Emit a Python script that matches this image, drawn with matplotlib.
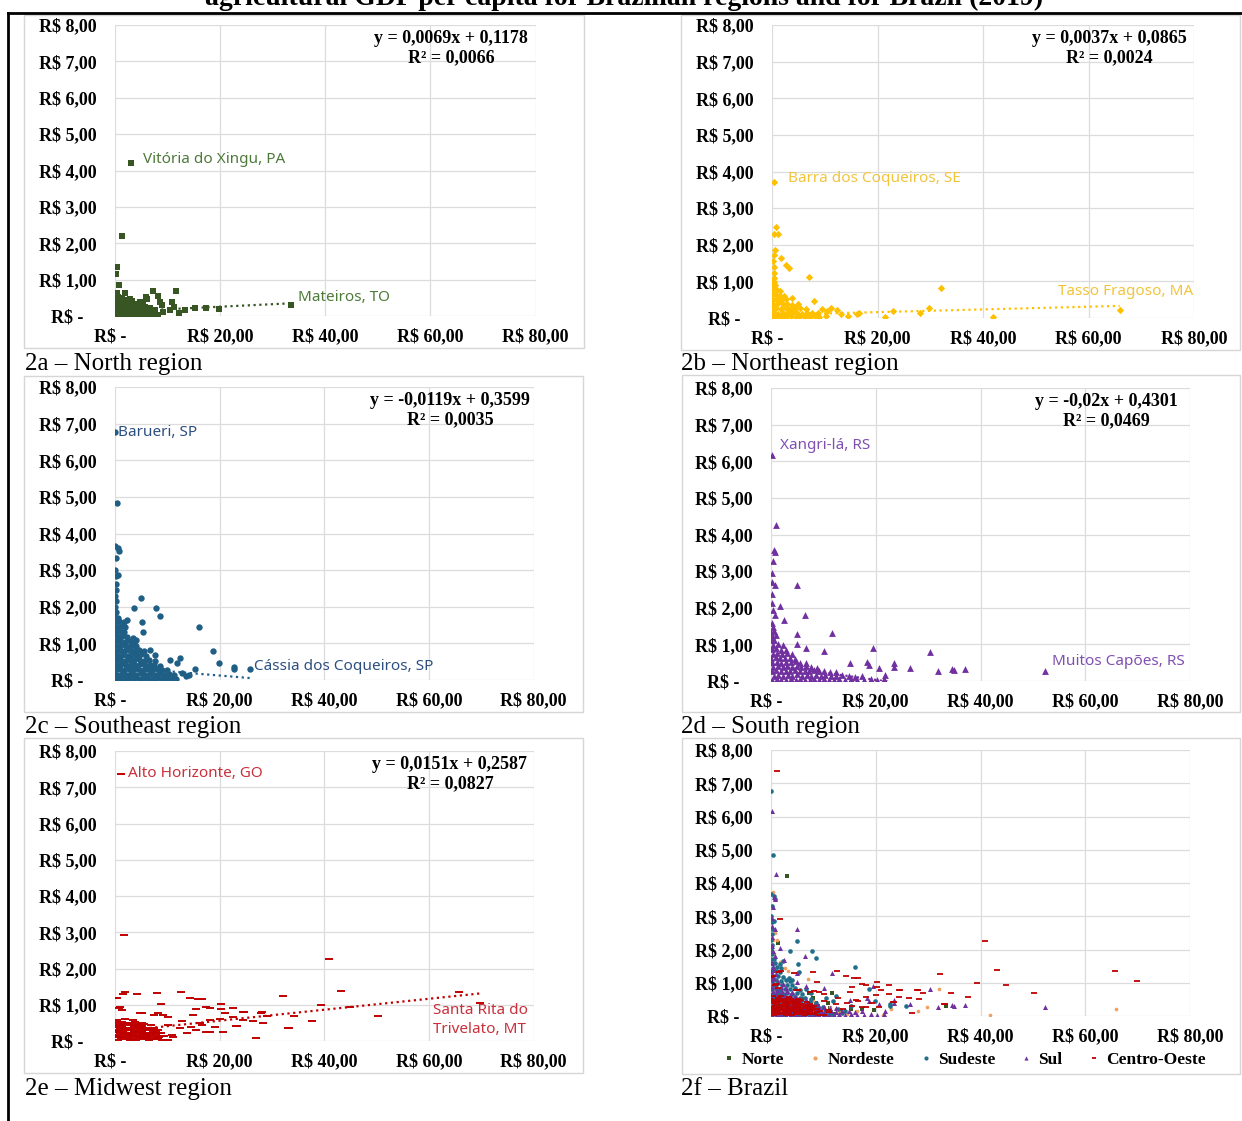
import matplotlib.pyplot as plt
from matplotlib.patches import Rectangle
from matplotlib.lines import Line2D

# ---------------------------------------------------------------
# datos (x = PIB agro per capita, y = valor)
# ---------------------------------------------------------------
north_x = [
    0.1, 0.8, 1.6, 2.3, 3.1, 3.9, 4.6, 5.5, 6.3, 7.2, 8.1,
    0.3, 1.1, 1.9, 2.7, 3.5, 4.3, 5.1, 5.9, 6.8, 7.7, 9.2,
    0.0, 0.7, 1.5, 2.4, 3.2, 4.0, 4.8, 5.7, 6.6,
    0.2, 1.0, 1.8, 2.6, 3.5, 4.4, 5.3,
    0.1, 0.9, 1.7, 2.5, 3.3,
    0.0, 0.6, 1.4, 2.8,
    0.3, 1.9, 0.8, 0.1, 0.3, 1.4, 3.1,
    7.2, 11.6, 6.0, 8.6, 10.8, 10.5, 12.1, 13.3, 15.2, 17.3, 19.7, 33.4,
    4.8, 5.4, 7.6, 9.2, 8.1, 5.9, 9.0, 11.2,
]
north_y = [
    0.03, 0.05, 0.02, 0.04, 0.06, 0.03, 0.05, 0.02, 0.04, 0.06, 0.03,
    0.13, 0.11, 0.14, 0.12, 0.10, 0.15, 0.12, 0.13, 0.11, 0.14, 0.12,
    0.22, 0.24, 0.21, 0.23, 0.25, 0.22, 0.20, 0.24, 0.23,
    0.33, 0.31, 0.34, 0.32, 0.30, 0.33, 0.35,
    0.43, 0.41, 0.44, 0.42, 0.40,
    0.53, 0.51, 0.50, 0.47,
    0.62, 0.62, 0.85, 1.15, 1.35, 2.19, 4.20,
    0.68, 0.70, 0.48, 0.39, 0.39, 0.16, 0.07, 0.16, 0.21, 0.21, 0.19, 0.30,
    0.39, 0.26, 0.16, 0.12, 0.55, 0.51, 0.30, 0.25,
]

northeast_x = [
    0.1, 0.9, 1.8, 2.7, 3.6, 4.5, 5.4, 6.3, 7.2, 8.1, 9.0, 10.2,
    0.3, 1.2, 2.1, 3.0, 3.9, 4.8, 5.7, 6.6, 7.6, 8.8,
    0.0, 0.8, 1.7, 2.6, 3.5, 4.4, 5.3, 6.4,
    0.2, 1.1, 2.0, 2.9, 3.8, 4.9,
    0.1, 0.9, 1.8, 2.7, 3.8,
    0.0, 0.7, 1.5, 2.3,
    0.2, 0.9, 1.6,
    0.1, 0.6,
    0.2, 0.4,
    0.4, 0.8, 0.4, 1.2, 0.55, 0.4, 1.75, 2.65, 3.25, 0.4,
    7.0, 0.4, 32.1, 8.0, 11.2, 12.4, 14.5, 16.5, 16.1, 21.4,
    22.9, 28.1, 29.8, 41.9, 65.9, 0.3, 0.2, 10.5, 9.5, 13.0,
]
northeast_y = [
    0.03, 0.05, 0.02, 0.04, 0.06, 0.03, 0.05, 0.02, 0.04, 0.06, 0.03, 0.05,
    0.14, 0.12, 0.15, 0.13, 0.16, 0.14, 0.12, 0.15, 0.13, 0.14,
    0.26, 0.28, 0.25, 0.27, 0.24, 0.26, 0.28, 0.25,
    0.38, 0.40, 0.37, 0.39, 0.36, 0.38,
    0.50, 0.52, 0.49, 0.51, 0.55,
    0.62, 0.64, 0.61, 0.60,
    0.75, 0.77, 0.74,
    0.88, 0.90,
    1.00, 0.98,
    3.72, 2.49, 2.28, 2.28, 1.86, 1.72, 1.63, 1.45, 1.36, 1.40,
    1.11, 1.24, 0.81, 0.46, 0.28, 0.22, 0.06, 0.15, 0.10, 0.02,
    0.20, 0.15, 0.26, 0.04, 0.22, 1.10, 1.55, 0.18, 0.25, 0.12,
]

southeast_x = [
    0.1, 0.9, 1.8, 2.7, 3.6, 4.5, 5.4, 6.3, 7.2, 8.1, 9.0, 9.9, 10.8, 11.7,
    0.4, 1.3, 2.2, 3.1, 4.0, 4.9, 5.8, 6.7, 7.6, 8.5, 9.4, 10.3, 11.3,
    0.0, 0.8, 1.7, 2.6, 3.5, 4.4, 5.3, 6.2, 7.1, 8.0, 8.9, 9.9,
    0.3, 1.2, 2.1, 3.0, 3.9, 4.8, 5.7, 6.6, 7.5, 8.6,
    0.1, 1.0, 1.9, 2.8, 3.7, 4.6, 5.5, 6.5, 7.6,
    0.4, 1.3, 2.2, 3.1, 4.0, 4.9, 5.9,
    0.0, 0.9, 1.8, 2.7, 3.6, 4.6, 5.6,
    0.3, 1.2, 2.1, 3.0, 4.0,
    0.1, 1.0, 1.9, 2.9, 3.6,
    0.4, 1.3, 2.3,
    0.0, 0.9, 1.8,
    0.3, 1.1, 2.0,
    0.1, 0.8, 1.7,
    0.0, 0.5,
    0.2,
    0.0, 0.1, 0.0, 0.2, 0.1,
    0.0, 0.3, 0.0, 0.5, 0.8, 0.1, 0.0, 0.1, 0.6,
    4.9, 3.7, 7.8, 8.6, 5.2, 5.3, 16.1, 18.7, 19.9, 22.8, 22.8, 25.8,
    15.3, 12.4, 10.5, 11.8, 6.6, 7.6, 3.5, 4.1, 2.2, 12.8, 13.5, 14.2,
]
southeast_y = [
    0.03, 0.05, 0.02, 0.04, 0.06, 0.03, 0.05, 0.02, 0.04, 0.06, 0.03, 0.05, 0.02, 0.04,
    0.15, 0.17, 0.14, 0.16, 0.15, 0.18, 0.14, 0.16, 0.15, 0.17, 0.14, 0.16, 0.13,
    0.28, 0.30, 0.27, 0.29, 0.28, 0.31, 0.27, 0.29, 0.28, 0.30, 0.27, 0.26,
    0.41, 0.43, 0.40, 0.42, 0.41, 0.44, 0.40, 0.42, 0.41, 0.39,
    0.54, 0.56, 0.53, 0.55, 0.54, 0.57, 0.53, 0.55, 0.52,
    0.67, 0.69, 0.66, 0.68, 0.67, 0.70, 0.66,
    0.80, 0.82, 0.79, 0.81, 0.80, 0.83, 0.78,
    0.93, 0.95, 0.92, 0.94, 0.93,
    1.06, 1.08, 1.05, 1.07, 1.04,
    1.19, 1.21, 1.18,
    1.32, 1.34, 1.31,
    1.45, 1.47, 1.44,
    1.58, 1.60, 1.57,
    1.72, 1.70,
    1.85,
    2.00, 2.15, 2.30, 2.46, 2.62,
    6.77, 4.83, 3.66, 3.60, 3.52, 3.32, 3.00, 2.84, 2.87,
    2.25, 1.96, 1.96, 1.75, 1.57, 1.32, 1.46, 0.80, 0.46, 0.36, 0.30, 0.30,
    0.29, 0.59, 0.55, 0.46, 0.82, 0.68, 1.14, 1.09, 1.64, 0.20, 0.10, 0.15,
]

south_x = [
    0.2, 1.1, 2.0, 2.9, 3.8, 4.7, 5.6, 6.5, 7.4, 8.3, 9.2, 10.1, 11.0, 12.0, 13.0, 14.1, 15.3, 16.5, 17.8, 19.0, 20.2, 21.5,
    0.5, 1.4, 2.3, 3.2, 4.1, 5.0, 5.9, 6.8, 7.7, 8.6, 9.5, 10.4, 11.4, 12.5, 13.6, 14.8, 16.0, 17.3,
    0.1, 1.0, 1.9, 2.8, 3.7, 4.6, 5.5, 6.4, 7.3, 8.2, 9.1, 10.1, 11.2, 12.4,
    0.4, 1.3, 2.2, 3.1, 4.0, 4.9, 5.8, 6.7, 7.7, 8.8,
    0.2, 1.1, 2.0, 2.9, 3.8, 4.7, 5.6, 6.6,
    0.0, 0.9, 1.8, 2.7, 3.6, 4.6,
    0.3, 1.2, 2.1, 3.0, 4.0,
    0.1, 1.0, 1.9, 2.8,
    0.4, 1.3, 2.2,
    0.1, 0.6, 0.2, 0.9, 0.0, 0.5, 0.3, 0.1,
    0.25, 1.0, 0.5, 0.8, 0.3, 0.25, 0.25, 0.8, 5.0, 0.25, 0.25, 1.8,
    0.4, 0.8, 2.5, 6.5, 5.0, 11.7, 5.0, 6.7, 10.2, 19.5, 30.4, 23.5,
    23.5, 26.5, 31.9, 34.6, 35.0, 37.0, 52.4, 18.4, 18.8, 20.6, 21.7, 15.0,
]
south_y = [
    0.03, 0.05, 0.02, 0.04, 0.06, 0.03, 0.05, 0.02, 0.04, 0.06, 0.03, 0.05, 0.02, 0.04, 0.06, 0.03, 0.05, 0.02, 0.04, 0.06, 0.03, 0.05,
    0.15, 0.17, 0.14, 0.16, 0.15, 0.18, 0.14, 0.16, 0.15, 0.17, 0.14, 0.16, 0.15, 0.13, 0.16, 0.14, 0.12, 0.15,
    0.27, 0.29, 0.26, 0.28, 0.27, 0.30, 0.26, 0.28, 0.27, 0.29, 0.26, 0.27, 0.25, 0.24,
    0.39, 0.41, 0.38, 0.40, 0.39, 0.42, 0.38, 0.40, 0.37, 0.36,
    0.51, 0.53, 0.50, 0.52, 0.51, 0.54, 0.50, 0.49,
    0.63, 0.65, 0.62, 0.64, 0.63, 0.61,
    0.75, 0.77, 0.74, 0.76, 0.73,
    0.87, 0.89, 0.86, 0.85,
    0.99, 1.01, 0.97,
    1.11, 1.13, 1.23, 1.25, 1.35, 1.37, 1.47, 1.59,
    6.17, 4.26, 3.58, 3.53, 3.28, 2.96, 2.70, 2.62, 2.62, 2.38, 2.12, 2.05,
    1.94, 1.80, 1.67, 1.80, 1.28, 1.30, 1.01, 0.89, 0.83, 0.89, 0.80, 0.48,
    0.39, 0.35, 0.27, 0.32, 0.30, 0.32, 0.26, 0.53, 0.44, 0.36, 0.16, 0.48,
]

midwest_x = [
    0.5, 1.7, 2.9, 4.1, 5.3, 6.5, 7.7, 8.9, 10.2,
    0.0, 1.1, 2.3, 3.5, 4.7, 5.9, 7.1, 8.4, 11.0,
    0.6, 1.8, 3.0, 4.2, 5.4, 6.6, 7.9, 9.3,
    0.2, 1.3, 2.5, 3.7, 4.9, 6.1, 7.3, 8.7,
    0.7, 1.9, 3.1, 4.3, 5.5, 6.8, 8.2,
    0.1, 1.2, 2.4, 3.6, 4.8, 6.0, 7.4,
    0.6, 1.8, 3.0, 4.2, 5.5, 6.9,
    0.0, 1.3, 2.5, 3.8, 5.1,
    0.4, 1.9, 3.4,
    1.1, 2.3, 3.5, 4.7, 5.9, 7.1, 8.3,
    0.2, 1.4, 2.6, 3.8, 5.0, 6.2, 7.5, 8.8,
    1.0, 2.2, 3.4, 4.6, 5.8, 7.0, 8.2,
    0.0, 1.5, 2.7, 3.9, 5.1, 6.4, 7.8,
    0.9, 2.1, 3.3, 4.5, 5.8, 7.1,
    0.2, 1.4, 2.6, 3.9, 5.1,
    0.8, 2.0, 3.3, 4.6,
    1.06, 1.8, 40.9, 43.2, 32.2, 65.7, 69.8, 39.4, 44.9, 50.2, 37.7, 34.3, 33.2,
    27.0, 27.9, 29.0, 24.7, 22.6, 20.3, 20.3, 18.1, 16.6, 15.4, 23.4, 26.4,
    12.6, 8.1, 4.3, 1.9, 0.3, 0.0, 8.8, 14.3, 0.7, 1.4, 4.8, 7.5, 10.1,
    12.8, 16.6, 19.2, 20.7, 17.3, 15.4,
    1.6, 15.9, 1.0, 5.1, 8.3, 9.2, 15.0, 17.4, 21.0, 24.5, 28.0, 28.3, 24.5,
    22.6, 20.1, 18.2, 16.2, 14.6, 12.4, 18.2, 23.2, 33.1, 10.2, 10.8, 13.7,
]
midwest_y = [
    0.04, 0.05, 0.03, 0.04, 0.06, 0.03, 0.05, 0.04, 0.03,
    0.10, 0.11, 0.09, 0.12, 0.10, 0.11, 0.09, 0.10, 0.12,
    0.17, 0.18, 0.16, 0.17, 0.19, 0.16, 0.18, 0.15,
    0.24, 0.25, 0.23, 0.24, 0.26, 0.23, 0.25, 0.22,
    0.31, 0.32, 0.30, 0.31, 0.33, 0.30, 0.29,
    0.38, 0.39, 0.37, 0.38, 0.40, 0.37, 0.36,
    0.45, 0.46, 0.44, 0.45, 0.47, 0.43,
    0.52, 0.53, 0.51, 0.52, 0.50,
    0.59, 0.60, 0.58,
    0.07, 0.08, 0.06, 0.07, 0.08, 0.06, 0.07,
    0.14, 0.13, 0.15, 0.14, 0.13, 0.15, 0.14, 0.13,
    0.21, 0.20, 0.22, 0.21, 0.20, 0.22, 0.21,
    0.28, 0.27, 0.29, 0.28, 0.27, 0.29, 0.27,
    0.35, 0.34, 0.36, 0.35, 0.34, 0.33,
    0.42, 0.41, 0.43, 0.42, 0.41,
    0.49, 0.48, 0.50, 0.48,
    7.36, 2.92, 2.27, 1.39, 1.25, 1.34, 1.06, 0.99, 0.93, 0.70, 0.56, 0.70, 0.37,
    0.09, 0.78, 0.69, 0.79, 0.92, 1.01, 0.88, 0.92, 1.15, 0.88, 0.41, 0.55,
    1.34, 1.33, 1.29, 1.36, 1.20, 1.18, 1.02, 1.20, 0.92, 0.85, 0.78, 0.72, 0.67,
    0.55, 0.44, 0.39, 0.26, 0.26, 0.30,
    1.31, 1.15, 0.95, 0.78, 0.76, 0.72, 0.72, 0.95, 0.78, 0.79, 0.79, 0.50, 0.58,
    0.67, 0.62, 0.58, 0.49, 0.39, 0.35, 0.26, 0.41, 0.37, 0.44, 0.17, 0.21,
]

# linha de tendencia (equacao exibida no grafico)
trend_slope = [0.0069, 0.0037, -0.0119, -0.02, 0.0151]
trend_intercept = [0.1178, 0.0865, 0.3599, 0.4301, 0.2587]
trend_text = [
    'y = 0,0069x + 0,1178\nR² = 0,0066',
    'y = 0,0037x + 0,0865\nR² = 0,0024',
    'y = -0,0119x + 0,3599\nR² = 0,0035',
    'y = -0,02x + 0,4301\nR² = 0,0469',
    'y = 0,0151x + 0,2587\nR² = 0,0827',
]

series_names = ['Norte', 'Nordeste', 'Sudeste', 'Sul', 'Centro-Oeste']
captions = ['2a – North region', '2b – Northeast region', '2c – Southeast region',
            '2d – South region', '2e – Midwest region', '2f – Brazil']

x_ticks = [0, 20, 40, 60, 80]
x_tick_labels = ['R$ -  ', 'R$ 20,00', 'R$ 40,00', 'R$ 60,00', 'R$ 80,00']
y_ticks = [0, 1, 2, 3, 4, 5, 6, 7, 8]
y_tick_labels = ['R$ -   ', 'R$ 1,00', 'R$ 2,00', 'R$ 3,00', 'R$ 4,00',
                 'R$ 5,00', 'R$ 6,00', 'R$ 7,00', 'R$ 8,00']

TITLE = 'agricultural GDP per capita for Brazilian regions and for Brazil (2019)'

SERIF = 'Liberation Serif'
SANS = 'Noto Sans'

W, H = 1242, 1121
fig = plt.figure(figsize=(W / 100, H / 100), dpi=100)


def fx(px):
    return px / W


def fy(py):
    return 1 - py / H


def make_ax(left, right, top, bottom):
    ax = fig.add_axes([fx(left), fy(bottom), (right - left) / W, (bottom - top) / H])
    ax.set_xlim(0, 80)
    ax.set_ylim(0, 8)
    ax.set_xticks(x_ticks)
    ax.set_xticklabels(x_tick_labels)
    ax.set_yticks(y_ticks)
    ax.set_yticklabels(y_tick_labels)
    for s in ax.spines.values():
        s.set_visible(False)
    ax.grid(True, color='#dcdcdc', linewidth=0.9)
    ax.set_axisbelow(True)
    ax.tick_params(length=0, labelsize=13)
    ax.tick_params(axis='y', pad=13)
    ax.tick_params(axis='x', pad=9)
    for lab in ax.get_xticklabels() + ax.get_yticklabels():
        lab.set_fontfamily(SERIF)
        lab.set_fontweight('bold')
    return ax


def panel_box(left, right, top, bottom):
    fig.add_artist(Rectangle((fx(left), fy(bottom)), (right - left) / W, (bottom - top) / H,
                             transform=fig.transFigure, fill=False,
                             edgecolor='#d6d6d6', linewidth=1.0))


def caption(px, py, txt):
    fig.text(fx(px), fy(py), txt, ha='left', va='center', fontsize=18, family=SERIF)


# marco de la tabla y titulo cortado
fig.add_artist(Line2D([fx(8), 1], [fy(13), fy(13)], transform=fig.transFigure,
                      color='black', linewidth=2))
fig.add_artist(Line2D([fx(8), fx(8)], [fy(13), 0], transform=fig.transFigure,
                      color='black', linewidth=2))
fig.text(fx(624), fy(5), TITLE, ha='center', va='baseline', fontsize=20,
         fontweight='bold', family=SERIF)

# posiciones de paneles (pixeles): caja, area de grafico, leyenda
boxes = [(24, 584, 15, 348), (681, 1240, 15, 350),
         (24, 583, 376, 712), (682, 1240, 375, 712),
         (24, 583, 738, 1073), (682, 1240, 738, 1074)]
areas = [(115, 535.5, 25, 316), (772, 1194, 25, 318),
         (115, 533.6, 387, 680), (771, 1190, 388, 681),
         (115, 533.6, 751, 1041), (771, 1190, 750, 1016)]
cap_pos = [(25, 364), (681, 364), (25, 727), (681, 727), (25, 1089), (681, 1089)]

for b in boxes:
    panel_box(*b)
for (cx, cy), txt in zip(cap_pos, captions):
    caption(cx, cy, txt)

xs_all = [north_x, northeast_x, southeast_x, south_x, midwest_x]
ys_all = [north_y, northeast_y, southeast_y, south_y, midwest_y]
colors = ['#375623', '#ffc000', '#1f5f86', '#7030a0', '#c00000']
text_colors = ['#4d7a3a', '#f2c43c', '#2d4f80', '#8050b0', '#c8303c']
markers = ['s', 'D', 'o', '^', '_']
sizes = [17, 14, 21, 24, 26]

# etiquetas de municipios: (texto, x, y, ha)
labels = [
    [('Vitória do Xingu, PA', 5.3, 4.30, 'left'), ('Mateiros, TO', 34.8, 0.52, 'left')],
    [('Barra dos Coqueiros, SE', 3.0, 3.80, 'left'), ('Tasso Fragoso, MA', 79.8, 0.71, 'right')],
    [('Barueri, SP', 0.6, 6.75, 'left'), ('Cássia dos Coqueiros, SP', 26.6, 0.36, 'left')],
    [('Xangri-lá, RS', 1.7, 6.42, 'left'), ('Muitos Capões, RS', 79.0, 0.52, 'right')],
    [('Alto Horizonte, GO', 2.4, 7.38, 'left'), ('Santa Rita do\nTrivelato, MT', 60.8, 0.58, 'left')],
]

for i in range(5):
    ax = make_ax(*areas[i])
    xs, ys = xs_all[i], ys_all[i]
    if markers[i] == '_':
        ax.scatter(xs, ys, s=sizes[i], marker='_', color=colors[i], linewidths=1.4, zorder=3)
    else:
        ax.scatter(xs, ys, s=sizes[i], marker=markers[i], color=colors[i],
                   linewidths=0, zorder=3)
    x0, x1 = min(xs), max(xs)
    ax.plot([x0, x1], [trend_slope[i] * x0 + trend_intercept[i], trend_slope[i] * x1 + trend_intercept[i]],
            linestyle=(0, (1, 1.6)), color=colors[i], linewidth=1.6, zorder=2)
    ax.text(64, 7.86, trend_text[i], ha='center', va='top', fontsize=13,
            fontweight='bold', family=SERIF, linespacing=1.15)
    for txt, tx, ty, ha in labels[i]:
        ax.text(tx, ty, txt, ha=ha, va='center', fontsize=11, family=SANS,
                color=text_colors[i], linespacing=1.45)

# painel Brasil
axf = make_ax(*areas[5])
f_colors = ['#375623', '#f0a060', '#1f6e8a', '#7030a0', '#c00000']
f_sizes = [8, 7, 11, 13, 18]
handles = []
for i in range(5):
    if markers[i] == '_':
        axf.scatter(xs_all[i], ys_all[i], s=f_sizes[i], marker='_', color=f_colors[i],
                    linewidths=1.3, zorder=3)
    else:
        m = 'o' if i == 1 else markers[i]
        axf.scatter(xs_all[i], ys_all[i], s=f_sizes[i], marker=m, color=f_colors[i],
                    linewidths=0, zorder=3)
    m = 'o' if i == 1 else markers[i]
    handles.append(Line2D([], [], linestyle='none', marker=m, color=f_colors[i],
                          markersize=3, markeredgewidth=1.3 if m == '_' else 0))

axf.legend(handles, series_names, ncol=5, loc='center',
           bbox_to_anchor=(fx(964), fy(1060)), bbox_transform=fig.transFigure,
           frameon=False, prop={'family': SERIF, 'weight': 'bold', 'size': 12.5},
           handletextpad=0.3, columnspacing=1.4, handlelength=0.8, borderpad=0)

fig.savefig('out.png', dpi=100, facecolor='white')
